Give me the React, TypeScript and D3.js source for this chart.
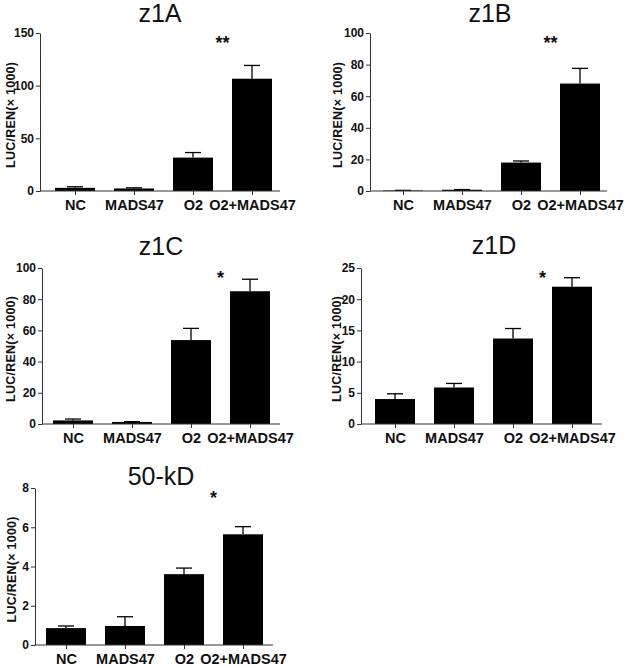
import React, { useEffect, useRef } from "react";
import * as d3 from "d3";

const categories = ["NC", "MADS47", "O2", "O2+MADS47"];

const titles = ["z1A", "z1B", "z1C", "z1D", "50-kD"];
const yMax = [150, 100, 100, 25, 8];
const yTicks = [
  [0, 50, 100, 150],
  [0, 20, 40, 60, 80, 100],
  [0, 20, 40, 60, 80, 100],
  [0, 5, 10, 15, 20, 25],
  [0, 2, 4, 6, 8],
];
const stars = ["**", "**", "*", "*", "*"];

// mean values per panel
const meansA = [3.0, 2.4, 31.7, 106.6];
const meansB = [0.3, 0.8, 18.0, 68.0];
const meansC = [2.3, 1.3, 53.8, 85.1];
const meansD = [4.0, 5.85, 13.7, 22.0];
const meansE = [0.86, 0.97, 3.61, 5.64];
// upper end of error bars
const errA = [4.0, 3.0, 36.5, 119.2];
const errB = [0.4, 0.9, 19.0, 77.6];
const errC = [3.2, 1.5, 61.3, 92.8];
const errD = [4.84, 6.5, 15.3, 23.45];
const errE = [0.97, 1.44, 3.92, 6.03];

const means = [meansA, meansB, meansC, meansD, meansE];
const errs = [errA, errB, errC, errD, errE];

// layout of each small panel in page pixels
const panels = [
  { ax: 40, top: 33, bottom: 191, first: 75, end: 280, labelX: 11, titleX: 160, titleY: 22 },
  { ax: 370, top: 33, bottom: 191, first: 403, end: 607, labelX: 338, titleX: 490, titleY: 22 },
  { ax: 42, top: 268, bottom: 424, first: 73, end: 280, labelX: 11, titleX: 161, titleY: 255 },
  { ax: 361, top: 268, bottom: 424, first: 395, end: 602, labelX: 337, titleX: 494, titleY: 254 },
  { ax: 35, top: 488, bottom: 645, first: 66, end: 273, labelX: 12, titleX: 161, titleY: 485 },
];

const FONT = "'Liberation Sans', Arial, Helvetica, sans-serif";

const App = () => {
  const ref = useRef(null);

  useEffect(() => {
    const svg = d3.select(ref.current);
    svg.selectAll("*").remove();

    panels.forEach((p, k) => {
      const g = svg.append("g");
      const y = d3.scaleLinear().domain([0, yMax[k]]).range([p.bottom, p.top]);
      const x = d3.scalePoint().domain(categories).range([p.first, p.first + 3 * 59]);
      const barW = 40;

      // bars
      g.selectAll(".bar")
        .data(categories)
        .enter().append("rect")
        .attr("x", d => x(d) - barW / 2)
        .attr("y", (d, i) => y(means[k][i]))
        .attr("width", barW)
        .attr("height", (d, i) => p.bottom - y(means[k][i]))
        .attr("fill", "#000");

      // error bars (upper only)
      categories.forEach((c, i) => {
        g.append("line")
          .attr("x1", x(c)).attr("x2", x(c))
          .attr("y1", y(means[k][i])).attr("y2", y(errs[k][i]))
          .attr("stroke", "#000").attr("stroke-width", 1.3);
        g.append("line")
          .attr("x1", x(c) - 8).attr("x2", x(c) + 8)
          .attr("y1", y(errs[k][i])).attr("y2", y(errs[k][i]))
          .attr("stroke", "#000").attr("stroke-width", 1.3);
      });

      // y axis
      const yAxis = g.append("g")
        .attr("transform", `translate(${p.ax},0)`)
        .call(d3.axisLeft(y).tickValues(yTicks[k]).tickSize(4).tickPadding(2).tickSizeOuter(0));
      yAxis.select(".domain").attr("stroke", "#333");
      yAxis.selectAll(".tick line").attr("stroke", "#333");
      yAxis.selectAll("text")
        .style("font-family", FONT).style("font-size", "12px")
        .style("font-weight", "bold").attr("fill", "#111");

      // x axis
      const xAxis = g.append("g")
        .attr("transform", `translate(0,${p.bottom})`)
        .call(d3.axisBottom(x).tickSize(4).tickSizeOuter(0).tickPadding(5));
      xAxis.select(".domain").attr("d", `M${p.ax},0H${p.end}`).attr("stroke", "#333");
      xAxis.selectAll(".tick line").attr("stroke", "#333");
      xAxis.selectAll("text")
        .style("font-family", FONT).style("font-size", "14.5px")
        .style("font-weight", "bold").attr("fill", "#111");

      // y label
      g.append("text")
        .attr("transform", `translate(${p.labelX},${(p.top + p.bottom) / 2 + 3}) rotate(-90)`)
        .attr("text-anchor", "middle")
        .attr("dominant-baseline", "central")
        .attr("textLength", 106)
        .style("font-family", FONT).style("font-size", "12.5px").style("font-weight", "bold")
        .attr("fill", "#111")
        .text("LUC/REN(× 1000)");

      // title
      g.append("text")
        .attr("x", p.titleX).attr("y", p.titleY)
        .attr("text-anchor", "middle")
        .style("font-family", FONT).style("font-size", "25px")
        .attr("fill", "#111")
        .text(titles[k]);

      // significance marks
      const mid = (x(categories[2]) + x(categories[3])) / 2;
      g.append("text")
        .attr("x", mid).attr("y", p.top + 16)
        .attr("text-anchor", "middle")
        .style("font-family", FONT).style("font-size", "18px").style("font-weight", "bold")
        .attr("fill", "#111")
        .text(stars[k]);
    });
  }, []);

  return (
    <svg ref={ref} width={642} height={666}
      style={{ position: "absolute", left: 0, top: 0, background: "#fff" }} />
  );
};

export default App;
